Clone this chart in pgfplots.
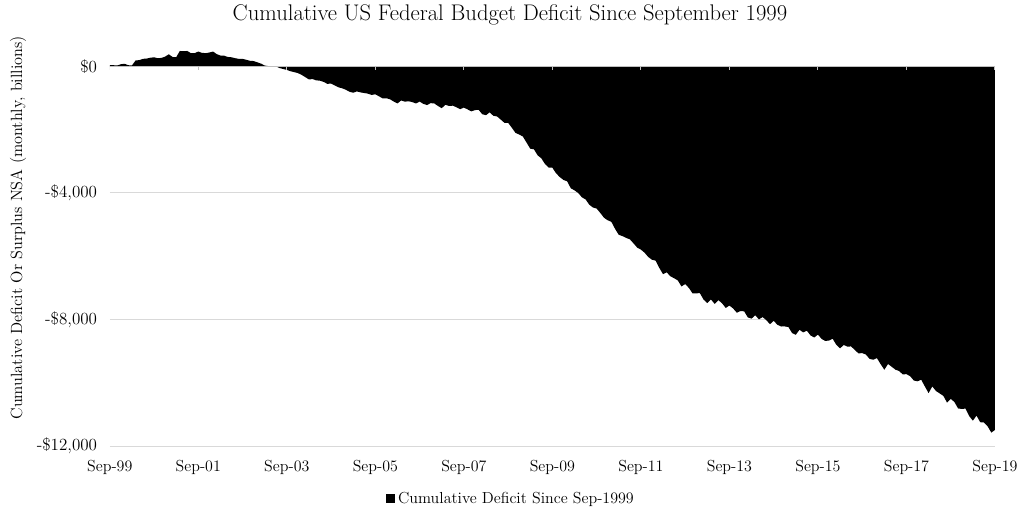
\documentclass[border=0pt]{standalone}
\usepackage{pgfplots}
\usepackage{pgfplotstable}
\pgfplotsset{compat=1.18}
\definecolor{gridgray}{HTML}{D9D9D9}
\definecolor{zerogray}{HTML}{BFBFBF}
\pgfplotstableread{
x y
0 40
1 40
2 30
3 70
4 85
5 40
6 30
7 190
8 200
9 240
10 250
11 275
12 290
13 260
14 270
15 310
16 385
17 300
18 290
19 490
20 480
21 490
22 420
23 420
24 470
25 430
26 420
27 440
28 470
29 390
30 345
31 340
32 300
33 290
34 260
35 240
36 240
37 210
38 180
39 170
40 130
41 90
42 30
43 10
44 0
45 10
46 -50
47 -80
48 -110
49 -150
50 -180
51 -210
52 -265
53 -337
54 -410
55 -400
56 -440
57 -450
58 -490
59 -550
60 -540
61 -600
62 -660
63 -690
64 -737
65 -800
66 -830
67 -790
68 -820
69 -840
70 -860
71 -900
72 -880
73 -944
74 -1010
75 -1005
76 -1040
77 -1110
78 -1170
79 -1075
80 -1113
81 -1100
82 -1126
83 -1170
84 -1110
85 -1182
86 -1220
87 -1160
88 -1170
89 -1250
90 -1320
91 -1210
92 -1250
93 -1240
94 -1290
95 -1350
96 -1300
97 -1357
98 -1420
99 -1380
100 -1370
101 -1510
102 -1540
103 -1450
104 -1560
105 -1580
106 -1680
107 -1780
108 -1780
109 -1935
110 -2100
111 -2151
112 -2214
113 -2407
114 -2599
115 -2619
116 -2809
117 -2903
118 -3084
119 -3195
120 -3200
121 -3376
122 -3496
123 -3587
124 -3630
125 -3851
126 -3916
127 -3999
128 -4135
129 -4203
130 -4368
131 -4459
132 -4492
133 -4632
134 -4782
135 -4862
136 -4911
137 -5134
138 -5322
139 -5362
140 -5420
141 -5463
142 -5592
143 -5726
144 -5789
145 -5887
146 -6024
147 -6110
148 -6137
149 -6369
150 -6567
151 -6508
152 -6633
153 -6693
154 -6763
155 -6954
156 -6879
157 -6999
158 -7171
159 -7170
160 -7167
161 -7371
162 -7478
163 -7365
164 -7504
165 -7387
166 -7485
167 -7633
168 -7558
169 -7649
170 -7784
171 -7731
172 -7741
173 -7934
174 -7971
175 -7864
176 -7994
177 -7923
178 -8018
179 -8147
180 -8041
181 -8163
182 -8220
183 -8218
184 -8236
185 -8428
186 -8481
187 -8324
188 -8406
189 -8354
190 -8503
191 -8567
192 -8476
193 -8612
194 -8677
195 -8663
196 -8608
197 -8801
198 -8909
199 -8803
200 -8856
201 -8850
202 -8963
203 -9070
204 -9061
205 -9106
206 -9243
207 -9270
208 -9219
209 -9411
210 -9587
211 -9405
212 -9493
213 -9583
214 -9626
215 -9734
216 -9726
217 -9789
218 -9928
219 -9951
220 -9902
221 -10117
222 -10326
223 -10112
224 -10259
225 -10334
226 -10411
227 -10625
228 -10506
229 -10606
230 -10811
231 -10825
232 -10816
233 -11050
234 -11197
235 -11037
236 -11245
237 -11253
238 -11373
239 -11573
240 -11490
}\deficit
\begin{document}
\begin{tikzpicture}
\begin{axis}[
  scale only axis,
  width=665.25pt, height=301.95pt,
  xmin=0, xmax=240, ymin=-12000, ymax=700,
  axis line style={draw=none},
  tick style={draw=none},
  ymajorgrids,
  grid style={gridgray, line width=0.75pt},
  scaled y ticks=false,
  xtick={0,24,48,72,96,120,144,168,192,216,240},
  xticklabels={Sep-99,Sep-01,Sep-03,Sep-05,Sep-07,Sep-09,Sep-11,Sep-13,Sep-15,Sep-17,Sep-19},
  ytick={-12000,-8000,-4000,0},
  yticklabels={{-\$12,000},{-\$8,000},{-\$4,000},{\$0}},
  xticklabel style={font=\fontsize{12}{14}\selectfont, anchor=north, yshift=-7pt},
  yticklabel style={font=\fontsize{12.8}{15}\selectfont, anchor=east, xshift=-6pt},
]
\addplot[fill=black, draw=none] table[x=x, y=y] {\deficit} \closedcycle;
\draw[zerogray, line width=0.75pt] (axis cs:0,0) -- (axis cs:240,0);
\pgfplotsinvokeforeach{0,24,48,72,96,120,144,168,192,216,240}{
  \draw[zerogray, line width=0.75pt] (axis cs:#1,0) -- ([yshift=-2.5pt]axis cs:#1,0);
}
\end{axis}
\node[font=\fontsize{17}{20}\selectfont] at (300.75pt,324pt) {Cumulative US Federal Budget Deficit Since September 1999};
\node[rotate=90, font=\fontsize{12.2}{14}\selectfont] at (-69pt,164pt) {Cumulative Deficit Or Surplus NSA (monthly, billions)};
\node[font=\fontsize{12}{14}\selectfont, inner sep=0pt] at (300.75pt,-39.75pt) {\rule{7pt}{7pt}\hspace{2pt}Cumulative Deficit Since Sep-1999};
\path (-82.5pt,-47.25pt) rectangle (684pt,335.25pt);
\end{tikzpicture}
\end{document}
